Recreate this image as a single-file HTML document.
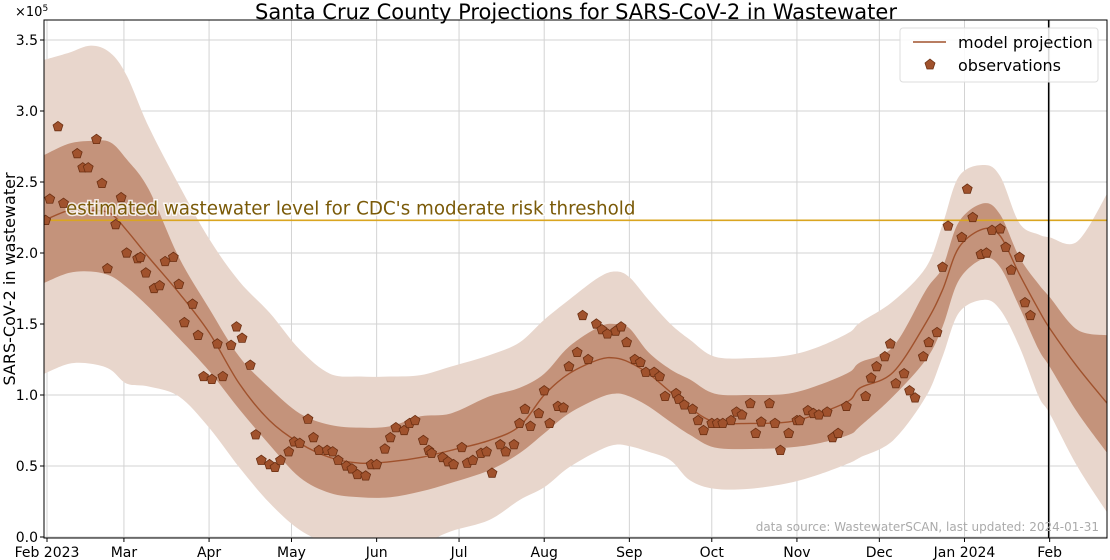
<!DOCTYPE html>
<html><head><meta charset="utf-8"><style>
html,body{margin:0;padding:0;background:#fff;}
svg{display:block;font-family:"DejaVu Sans","Liberation Sans",sans-serif;}
</style></head><body>
<svg id="chart" width="1110" height="560" viewBox="0 0 1110 560" xmlns="http://www.w3.org/2000/svg">
<text x="576" y="19" text-anchor="middle" font-size="21" fill="#000">Santa Cruz County Projections for SARS-CoV-2 in Wastewater</text>
<text x="15" y="16" font-size="13" fill="#000">×10<tspan dy="-5" font-size="9">5</tspan></text>
<text transform="translate(15,279) rotate(-90)" text-anchor="middle" font-size="16" fill="#000">SARS-CoV-2 in wastewater</text>
<defs><clipPath id="plotclip"><rect x="44" y="20" width="1063" height="518"/></clipPath></defs>
<g id="grid"></g>
<g id="bands" clip-path="url(#plotclip)"></g>
<g id="marks" clip-path="url(#plotclip)"></g>
<g id="axes"></g>
<text x="1099" y="531" text-anchor="end" font-size="12" fill="#aaaaaa">data source: WastewaterSCAN, last updated: 2024-01-31</text>
<g>
<rect x="900" y="28" width="198" height="54" rx="3" fill="#fff" fill-opacity="0.85" stroke="#dddddd"/>
<line x1="913" y1="42" x2="946" y2="42" stroke="#a0522d" stroke-width="1.5"/>
<text x="958" y="48" font-size="16">model projection</text>
<polygon points="930,59 935,63 933,69 927,69 925,63" fill="#a0522d" stroke="#6b2f12" stroke-width="0.8"/>
<text x="958" y="71" font-size="16">observations</text>
</g>
</svg>
<script>
// ---- data (values in units of 1e5; days since 2023-02-01) ----
const bandDays = [-1,8,16,23,29,37,48,59,70,81,92,103,114,125,136,147,161,172,181,190,201,207,212,219,227,234,243,256,270,281,292,296,308,320,326,332,341,347,354,361,365,375,386];
const modelLine = [2.23,2.30,2.30,2.28,2.16,1.97,1.72,1.44,1.08,0.82,0.66,0.56,0.52,0.53,0.56,0.61,0.68,0.78,1.00,1.15,1.25,1.26,1.23,1.15,1.02,0.91,0.81,0.80,0.81,0.87,0.96,1.05,1.16,1.51,1.74,2.04,2.17,2.12,1.85,1.60,1.47,1.20,0.94];
const innerUpper = [2.69,2.77,2.79,2.78,2.66,2.45,1.97,1.61,1.27,1.05,0.87,0.79,0.77,0.78,0.85,0.87,0.99,1.05,1.15,1.34,1.48,1.50,1.47,1.30,1.18,1.11,1.01,1.00,1.01,1.07,1.16,1.23,1.34,1.74,1.90,2.22,2.35,2.27,1.97,1.78,1.69,1.46,1.42];
const innerLower = [1.79,1.86,1.87,1.84,1.76,1.62,1.40,1.17,0.90,0.65,0.42,0.31,0.28,0.28,0.32,0.38,0.47,0.59,0.73,0.87,0.98,1.01,0.99,0.92,0.81,0.72,0.63,0.62,0.63,0.66,0.72,0.78,0.99,1.25,1.48,1.81,1.96,1.90,1.62,1.32,1.20,0.88,0.59];
const outerUpper = [3.36,3.41,3.46,3.41,3.25,2.89,2.48,2.10,1.80,1.58,1.32,1.15,1.13,1.13,1.14,1.20,1.28,1.37,1.53,1.67,1.83,1.87,1.83,1.67,1.50,1.39,1.27,1.26,1.28,1.34,1.44,1.51,1.66,1.90,2.20,2.54,2.62,2.54,2.21,2.13,2.11,2.08,2.42];
const outerLower = [1.15,1.22,1.22,1.18,1.08,1.06,0.99,0.77,0.49,0.24,0.05,-0.05,-0.10,-0.10,-0.05,0.04,0.12,0.26,0.35,0.49,0.61,0.65,0.64,0.60,0.54,0.40,0.34,0.34,0.38,0.44,0.52,0.56,0.68,0.99,1.27,1.58,1.67,1.60,1.34,0.99,0.87,0.50,0.17];
const obsDays = [-0.5,1,4,6,11,13,15,18,20,22,25,27,29,33,34,36,39,41,43,46,48,50,53,55,57,60,62,64,67,69,71,74,76,78,81,83,85,88,90,92,95,97,99,102,104,106,109,111,113,116,118,120,123,125,127,130,132,134,137,139,140,144,146,148,151,153,155,158,160,162,165,167,170,172,174,176,179,181,183,186,188,190,193,195,197,200,202,204,207,209,211,214,216,218,221,223,225,229,230,232,235,237,239,242,244,246,249,251,253,256,258,260,263,265,267,270,273,274,277,279,281,284,286,288,291,298,300,302,305,307,309,312,314,316,319,321,324,326,328,333,335,337,340,342,344,347,349,351,354,356,358];
const obsVals = [2.23,2.38,2.89,2.35,2.70,2.60,2.60,2.80,2.49,1.89,2.20,2.39,2.00,1.96,1.97,1.86,1.75,1.77,1.94,1.97,1.78,1.51,1.64,1.42,1.13,1.11,1.36,1.13,1.35,1.48,1.40,1.21,0.72,0.54,0.51,0.49,0.54,0.60,0.67,0.66,0.83,0.70,0.61,0.61,0.60,0.54,0.50,0.48,0.44,0.43,0.51,0.51,0.62,0.70,0.77,0.75,0.80,0.82,0.68,0.61,0.59,0.56,0.53,0.51,0.63,0.52,0.54,0.59,0.60,0.45,0.65,0.60,0.65,0.80,0.90,0.78,0.87,1.03,0.80,0.92,0.91,1.20,1.30,1.56,1.25,1.50,1.46,1.43,1.45,1.48,1.37,1.25,1.23,1.16,1.16,1.13,0.99,1.01,0.97,0.93,0.90,0.82,0.75,0.80,0.80,0.80,0.82,0.88,0.86,0.94,0.73,0.81,0.94,0.80,0.61,0.73,0.82,0.82,0.89,0.87,0.86,0.88,0.70,0.73,0.92,0.99,1.12,1.20,1.27,1.36,1.08,1.15,1.03,0.98,1.27,1.37,1.44,1.90,2.19,2.11,2.45,2.25,1.99,2.00,2.16,2.17,2.04,1.88,1.97,1.65,1.56];
const thresholdValue = 2.23;
const currentDay = 365;
const yTicks = [0,0.5,1.0,1.5,2.0,2.5,3.0,3.5];
const yTickLabels = ["0.0","0.5","1.0","1.5","2.0","2.5","3.0","3.5"];
const xTickDays = [0,28,59,89,120,150,181,212,242,273,303,334,365];
const xTickLabels = ["Feb 2023","Mar","Apr","May","Jun","Jul","Aug","Sep","Oct","Nov","Dec","Jan 2024","Feb"];

// ---- axis functions ----
const X0=44, X1=1107, Y0=20, Y1=538;
function xs(d){ return 47 + d*2.747; }
function ys(v){ return 537 - v*142; }
const NS="http://www.w3.org/2000/svg";
function mk(tag, attrs, parent){ const e=document.createElementNS(NS,tag); for(const k in attrs) e.setAttribute(k,attrs[k]); parent.appendChild(e); return e; }
function smoothPath(pts, move){
  let d = (move? "M":"L") + pts[0][0].toFixed(2)+","+pts[0][1].toFixed(2);
  for(let i=0;i<pts.length-1;i++){
    const p0=pts[Math.max(0,i-1)], p1=pts[i], p2=pts[i+1], p3=pts[Math.min(pts.length-1,i+2)];
    const c1=[p1[0]+(p2[0]-p0[0])/6, p1[1]+(p2[1]-p0[1])/6];
    const c2=[p2[0]-(p3[0]-p1[0])/6, p2[1]-(p3[1]-p1[1])/6];
    d+=" C"+c1[0].toFixed(2)+","+c1[1].toFixed(2)+" "+c2[0].toFixed(2)+","+c2[1].toFixed(2)+" "+p2[0].toFixed(2)+","+p2[1].toFixed(2);
  }
  return d;
}
function bandPath(up, lo){
  const u = bandDays.map((d,i)=>[xs(d),ys(up[i])]);
  const l = bandDays.map((d,i)=>[xs(d),ys(lo[i])]).reverse();
  return smoothPath(u,true)+" "+smoothPath(l,false)+" Z";
}
const grid=document.getElementById('grid'), bands=document.getElementById('bands'), marks=document.getElementById('marks'), axes=document.getElementById('axes');

yTicks.forEach((v,i)=>{
  const g=mk('line',{x1:X0,x2:X1,y1:ys(v),y2:ys(v),stroke:'#d3d3d3','stroke-width':1},grid);
  
  
  const t=mk('line',{x1:X0-4,x2:X0,y1:ys(v),y2:ys(v),stroke:'#000'},axes);
  
  
  const lb=mk('text',{x:X0-6,y:ys(v)+5,'text-anchor':'end','font-size':14},axes);
  lb.textContent=yTickLabels[i];
  
  
});
xTickDays.forEach((d,i)=>{
  const g=mk('line',{x1:xs(d),x2:xs(d),y1:Y0,y2:Y1,stroke:'#d3d3d3','stroke-width':1},grid);
  
  
  const t=mk('line',{x1:xs(d),x2:xs(d),y1:Y1,y2:Y1+4,stroke:'#000'},axes);
  
  
  const lb=mk('text',{x:xs(d),y:557,'text-anchor':'middle','font-size':14},axes);
  lb.textContent=xTickLabels[i];
  
  
});

const ob=mk('path',{d:bandPath(outerUpper,outerLower),fill:'#e8d6cc'},bands);


const ib=mk('path',{d:bandPath(innerUpper,innerLower),fill:'#c4937b'},bands);


const ml=mk('path',{d:smoothPath(bandDays.map((d,i)=>[xs(d),ys(modelLine[i])]),true),fill:'none',stroke:'#a0522d','stroke-width':1.4},marks);



const th=mk('line',{x1:X0,x2:X1,y1:ys(thresholdValue),y2:ys(thresholdValue),stroke:'#daa520','stroke-width':1.6},marks);


const tt=mk('text',{x:66,y:ys(thresholdValue)-6,'font-size':18.3,fill:'#7a5a08',stroke:'#ffffff','stroke-width':3,'paint-order':'stroke','stroke-opacity':0.8},marks);
tt.textContent="estimated wastewater level for CDC's moderate risk threshold";



obsDays.forEach((d,i)=>{
  const cx=xs(d), cy=ys(obsVals[i]), r=5.2, pts=[];
  for(let k=0;k<5;k++){ const a=-Math.PI/2+k*2*Math.PI/5; pts.push((cx+r*Math.cos(a)).toFixed(2)+","+(cy+r*Math.sin(a)).toFixed(2)); }
  const p=mk('polygon',{points:pts.join(' '),fill:'#a0522d',stroke:'#6b2f12','stroke-width':0.8},marks);
  
  
});

const vl=mk('line',{x1:xs(currentDay)-1,x2:xs(currentDay)-1,y1:Y0,y2:Y1,stroke:'#000','stroke-width':1.5},marks);



const fr=mk('rect',{x:X0,y:Y0,width:X1-X0,height:Y1-Y0,fill:'none',stroke:'#000','stroke-width':1},axes);


</script>
</body></html>
